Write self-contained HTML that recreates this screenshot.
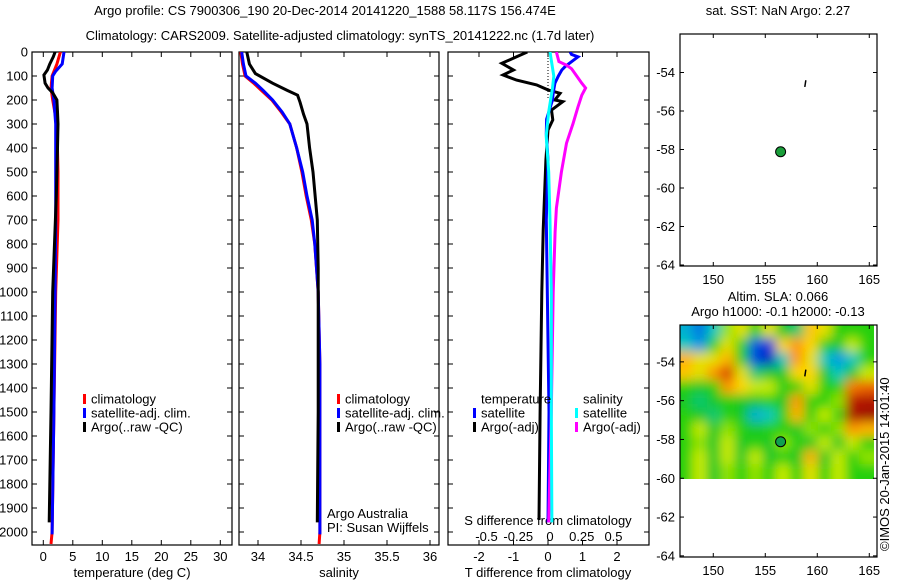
<!DOCTYPE html>
<html><head><meta charset="utf-8"><style>
html,body{margin:0;padding:0;background:#fff;}
svg{display:block;font-family:"Liberation Sans",sans-serif;font-size:13px;}
</style></head><body>
<svg id="fig" width="900" height="580" viewBox="0 0 900 580">
<defs>
<clipPath id="c1"><rect x="32" y="52" width="200" height="493"/></clipPath>
<clipPath id="c2"><rect x="239" y="52" width="200" height="493"/></clipPath>
<clipPath id="c3"><rect x="448" y="52" width="201" height="493"/></clipPath>
<clipPath id="cm"><rect x="680" y="325" width="194" height="154"/></clipPath>
<filter id="bl" x="-5%" y="-5%" width="110%" height="110%"><feGaussianBlur stdDeviation="5.5"/></filter>
</defs>
<text x="325" y="15" text-anchor="middle">Argo profile: CS 7900306_190 20-Dec-2014 20141220_1588 58.117S 156.474E</text>
<text x="340" y="40" text-anchor="middle">Climatology: CARS2009. Satellite-adjusted climatology: synTS_20141222.nc (1.7d later)</text>
<text x="778" y="15" text-anchor="middle">sat. SST: NaN Argo: 2.27</text>
<text x="778" y="301" text-anchor="middle">Altim. SLA: 0.066</text>
<text x="778" y="316" text-anchor="middle">Argo h1000: -0.1 h2000: -0.13</text>
<text transform="translate(889,551) rotate(-90)">©IMOS 20-Jan-2015 14:01:40</text>
<text x="327" y="518">Argo Australia</text>
<text x="327" y="532">PI: Susan Wijffels</text>
<g id="g"></g>
</svg>
<script>
// ---- data ----
const depthTicks=[0,100,200,300,400,500,600,700,800,900,1000,1100,1200,1300,1400,1500,1600,1700,1800,1900,2000];
const tTicks=[0,5,10,15,20,25,30];
const sTicks=[34,34.5,35,35.5,36];
const sTickLabels=["34","34.5","35","35.5","36"];
const tdTicks=[-2,-1,0,1,2];
const sdTicks=[-0.5,-0.25,0,0.25,0.5];
const sdTickLabels=["-0.5","-0.25","0","0.25","0.5"];
const lonTicks=[150,155,160,165];
const latTicks=[-54,-56,-58,-60,-62,-64];
// temperature profiles [depth, value]
const tArgoD=[0,20,50,75,96,130,150,170,200,250,300,400,600,1000,1500,1960];
const tArgoV=[2.0,1.7,1.1,0.7,0.1,0.3,0.8,1.6,2.3,2.4,2.5,2.4,2.2,1.6,1.3,1.0];
const tClimD=[0,50,100,150,200,300,500,700,1000,1500,2000,2050];
const tClimV=[2.9,2.3,1.5,1.3,1.6,2.3,2.5,2.5,2.1,1.8,1.5,1.3];
const tSatD=[0,50,80,100,150,200,300,700,1000,1500,2010];
const tSatV=[3.5,3.2,2.1,1.6,1.5,1.8,2.1,2.1,2.0,1.8,1.5];
// salinity profiles
const sArgoD=[0,50,90,130,160,180,210,260,300,400,500,700,900,1000,1500,1960];
const sArgoV=[33.87,33.9,33.97,34.17,34.34,34.46,34.49,34.53,34.57,34.6,34.64,34.69,34.7,34.7,34.7,34.69];
const sSatD=[0,50,100,130,160,200,250,300,400,500,600,700,800,1000,1300,2010];
const sSatV=[33.81,33.83,33.86,33.97,34.06,34.17,34.28,34.37,34.45,34.52,34.57,34.63,34.66,34.7,34.72,34.72];
const sClimD=[0,50,100,130,160,200,250,300,400,500,600,700,800,1000,1300,2000,2050];
const sClimV=[33.8,33.82,33.85,33.95,34.04,34.16,34.27,34.37,34.45,34.51,34.56,34.62,34.66,34.7,34.72,34.72,34.71];
// differences
const tdArgoD=[0,20,47,75,96,117,137,158,172,200,207,242,283,325,450,742,1000,1500,1950];
const tdArgoV=[-0.6,-0.91,-1.34,-1.0,-1.3,-0.91,-0.33,0.0,0.35,0.2,0.43,0.1,0.14,0.0,-0.06,-0.14,-0.18,-0.23,-0.26];
const tdSatD=[0,10,20,35,60,75,100,130,170,200,280,340,450,700,1500,1960];
const tdSatV=[0.64,0.68,0.87,0.73,0.5,0.4,0.3,0.2,0.15,0.13,-0.04,-0.05,0.0,-0.05,0.03,0.0];
const sdSatD=[0,100,150,250,350,500,700,1000,1500,1960];
const sdSatV=[0.0,0.03,0.02,-0.01,-0.03,-0.01,0.0,0.01,0.01,0.015];
const sdArgoD=[0,40,55,70,100,130,150,180,230,300,380,500,650,750,1000,1500,1960];
const sdArgoV=[0.05,0.07,0.13,0.17,0.21,0.25,0.28,0.25,0.22,0.18,0.13,0.09,0.05,0.04,0.025,0.01,-0.01];
// map
const argoLon=156.474, argoLat=-58.117;
// SLA grid (normalised 0..1), rows north->south covering lat -52.1..-60, lon 146.8..165.5
const slaGrid=[
[0.35,0.25,0.4,0.6,0.65,0.55,0.65,0.5,0.45,0.7,0.65,0.55,0.55,0.55],
[0.4,0.3,0.55,0.65,0.55,0.2,0.15,0.68,0.75,0.68,0.55,0.5,0.62,0.55],
[0.72,0.65,0.65,0.72,0.55,0.18,0.1,0.4,0.75,0.65,0.4,0.3,0.4,0.55],
[0.7,0.65,0.75,0.85,0.65,0.45,0.5,0.5,0.68,0.68,0.5,0.4,0.5,0.62],
[0.55,0.5,0.55,0.75,0.68,0.62,0.62,0.55,0.55,0.65,0.55,0.55,0.78,0.8],
[0.5,0.45,0.5,0.55,0.5,0.5,0.55,0.5,0.75,0.55,0.55,0.6,0.9,0.92],
[0.55,0.5,0.45,0.55,0.5,0.35,0.4,0.55,0.72,0.55,0.62,0.55,0.93,0.95],
[0.55,0.62,0.5,0.6,0.55,0.5,0.55,0.55,0.5,0.6,0.55,0.6,0.75,0.72],
[0.55,0.6,0.5,0.62,0.5,0.55,0.5,0.6,0.55,0.5,0.62,0.5,0.62,0.55],
[0.55,0.62,0.5,0.62,0.5,0.62,0.5,0.55,0.5,0.72,0.5,0.62,0.55,0.6],
[0.55,0.62,0.5,0.6,0.55,0.6,0.55,0.62,0.55,0.65,0.55,0.62,0.55,0.55]];

const NS="http://www.w3.org/2000/svg";
const G=document.getElementById('g');
function mk(tag,attrs,parent,txt){const e=document.createElementNS(NS,tag);for(const k in attrs)e.setAttribute(k,attrs[k]);if(txt!==undefined)e.textContent=txt;(parent||G).appendChild(e);return e;}
// scales
const yD=d=>52+d*0.24;
const xT=t=>43.3+5.9*t;
const xS=s=>258+86*(s-34);
const xTD=v=>548+34.5*v;
const xSD=v=>550+127*v;
const xLon=l=>680+(l-146.8)*10.4;
const yLat1=l=>34+(-52-l)*19.25;
const yLat2=l=>325+(-52.1-l)*19.4;

function frame(x0,x1,name){
  const f=mk('rect',{x:x0,y:52,width:x1-x0,height:493,fill:'none',stroke:'#000','stroke-width':1.2});
  
  
  depthTicks.forEach(d=>{mk('line',{x1:x0,x2:x0+5,y1:yD(d),y2:yD(d),stroke:'#000'});mk('line',{x1:x1-5,x2:x1,y1:yD(d),y2:yD(d),stroke:'#000'});});
}
frame(32,232,'temperature-axes');frame(239,439,'salinity-axes');frame(448,649,'difference-axes');
depthTicks.forEach(d=>{const t=mk('text',{x:28,y:yD(d)+4.5,'text-anchor':'end'},G,d);

});
function xticks(arr,labels,fx,ytop,ybot,ylab){arr.forEach((v,i)=>{const x=fx(v);mk('line',{x1:x,x2:x,y1:ytop,y2:ytop+5,stroke:'#000'});mk('line',{x1:x,x2:x,y1:ybot-5,y2:ybot,stroke:'#000'});const t=mk('text',{x:x,y:ylab,'text-anchor':'middle'},G,labels[i]);

});}
xticks(tTicks,tTicks,xT,52,545,561);
xticks(sTicks,sTickLabels,xS,52,545,561);
xticks(tdTicks,tdTicks,xTD,52,545,561);
sdTicks.forEach((v,i)=>{const t=mk('text',{x:xSD(v),y:541,'text-anchor':'middle'},G,sdTickLabels[i]);

});
[['temperature (deg C)',132,'temperature-axis-title'],['salinity',339,'salinity-axis-title'],['T difference from climatology',548,'t-diff-axis-title']].forEach(a=>{const t=mk('text',{x:a[1],y:577,'text-anchor':'middle'},G,a[0]);

});
const sdt=mk('text',{x:548,y:525,'text-anchor':'middle'},G,'S difference from climatology');


// zero line
mk('line',{x1:548,x2:548,y1:52,y2:100,stroke:'#000','stroke-dasharray':'1,2'});

function prof(D,V,fx,color,clip,name){
  const pts=D.map((d,i)=>fx(V[i]).toFixed(1)+','+yD(d).toFixed(1)).join(' ');
  const p=mk('polyline',{points:pts,fill:'none',stroke:color,'stroke-width':3,'clip-path':'url(#'+clip+')'});
  
  
}
prof(tClimD,tClimV,xT,'#f00','c1','temp-climatology-line');
prof(tSatD,tSatV,xT,'#00f','c1','temp-satellite-line');
prof(tArgoD,tArgoV,xT,'#000','c1','temp-argo-line');
prof(sClimD,sClimV,xS,'#f00','c2','sal-climatology-line');
prof(sSatD,sSatV,xS,'#00f','c2','sal-satellite-line');
prof(sArgoD,sArgoV,xS,'#000','c2','sal-argo-line');
prof(tdArgoD,tdArgoV,xTD,'#000','c3','tdiff-argo-line');
prof(tdSatD,tdSatV,xTD,'#00f','c3','tdiff-satellite-line');
prof(sdArgoD,sdArgoV,xSD,'#f0f','c3','sdiff-argo-line');
prof(sdSatD,sdSatV,xSD,'#0ff','c3','sdiff-satellite-line');

function legend(x,y,items,name){items.forEach((it,i)=>{
  if(it[0])mk('rect',{x:x,y:y+i*14-5,width:3,height:10,fill:it[0]});
  const t=mk('text',{x:x+8,y:y+i*14+4.5},G,it[1]);
  
  });}
legend(83,399,[['#f00','climatology'],['#00f','satellite-adj. clim.'],['#000','Argo(..raw -QC)']],'temp-legend');
legend(337,399,[['#f00','climatology'],['#00f','satellite-adj. clim.'],['#000','Argo(..raw -QC)']],'sal-legend');
legend(473,399,[[null,'temperature'],['#00f','satellite'],['#000','Argo(-adj)']],'tdiff-legend');
legend(575,399,[[null,'salinity'],['#0ff','satellite'],['#f0f','Argo(-adj)']],'sdiff-legend');

// colormap
const stops=[[0,[0,0,130]],[0.15,[0,50,220]],[0.3,[0,150,230]],[0.4,[0,200,190]],[0.5,[20,200,40]],[0.56,[40,210,0]],[0.62,[200,235,0]],[0.68,[255,215,0]],[0.76,[255,140,0]],[0.86,[210,40,0]],[1,[130,0,0]]];
function cmap(v){for(let i=1;i<stops.length;i++){if(v<=stops[i][0]){const a=stops[i-1],b=stops[i],f=(v-a[0])/(b[0]-a[0]);return 'rgb('+a[1].map((c,k)=>Math.round(c+(b[1][k]-c)*f)).join(',')+')';}}return 'rgb(130,0,0)';}

// maps
function mapAxes(top,yl,name){
  const f=mk('rect',{x:680,y:top,width:197,height:232,fill:'none',stroke:'#000','stroke-width':1.2});
  
  
  lonTicks.forEach(l=>{const x=xLon(l);mk('line',{x1:x,x2:x,y1:top,y2:top+4,stroke:'#000'});mk('line',{x1:x,x2:x,y1:top+232-4,y2:top+232,stroke:'#000'});const t=mk('text',{x:x,y:top+250,'text-anchor':'middle'},G,l);
  
  });
  latTicks.forEach(l=>{const y=yl(l);mk('line',{x1:680,x2:684,y1:y,y2:y,stroke:'#000'});mk('line',{x1:873,x2:877,y1:y,y2:y,stroke:'#000'});const t=mk('text',{x:675,y:y+4.5,'text-anchor':'end'},G,l);
  
  });
}
// heatmap
const hg=mk('g',{'clip-path':'url(#cm)'});
const hb=mk('g',{filter:'url(#bl)'},hg);
const cw=194/slaGrid[0].length, ch=154/slaGrid.length;
slaGrid.forEach((row,r)=>row.forEach((v,c)=>{
  // extend edge cells outward so the blur doesn't fade at the clip edge
  const x0=680+c*cw-1-(c===0?12:0), y0=325+r*ch-1-(r===0?12:0);
  const w=cw+2+(c===0?12:0)+(c===row.length-1?12:0), h=ch+2+(r===0?12:0)+(r===slaGrid.length-1?12:0);
  const cell=mk('rect',{x:x0,y:y0,width:w,height:h,fill:cmap(v)},hb);
  
  }));
mapAxes(34,yLat1,'sst-map-axes');
mapAxes(325,yLat2,'sla-map-axes');
const d1=mk('circle',{cx:xLon(argoLon),cy:yLat1(argoLat),r:5,fill:'#1a9e3a',stroke:'#000'});


const d2=mk('circle',{cx:xLon(argoLon),cy:yLat2(argoLat),r:5,fill:'#10a050',stroke:'#000'});


mk('line',{x1:xLon(158.8),y1:yLat1(-54.75),x2:xLon(158.9),y2:yLat1(-54.4),stroke:'#000','stroke-width':1.5});
mk('line',{x1:xLon(158.8),y1:yLat2(-54.75),x2:xLon(158.9),y2:yLat2(-54.4),stroke:'#000','stroke-width':1.5});
</script>
</body></html>
